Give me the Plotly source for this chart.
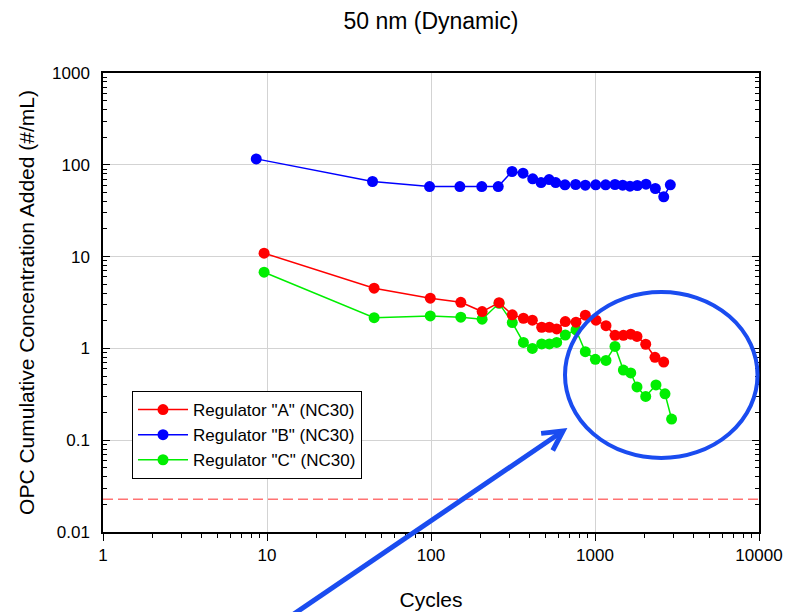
import math
import plotly.graph_objects as go

# ---------------- data ----------------
cycles_a = [9.6, 45, 99, 152, 205, 260, 313, 366, 415, 473, 527, 584, 659, 766, 873,
            1014, 1167, 1324, 1489, 1652, 1803, 2038, 2321, 2624]
conc_a = [10.9, 4.53, 3.52, 3.18, 2.52, 3.15, 2.32, 2.13, 2.03, 1.70, 1.70, 1.63, 1.96,
          1.93, 2.30, 2.03, 1.77, 1.39, 1.39, 1.43, 1.35, 1.11, 0.80, 0.71]

cycles_b = [8.6, 44, 98, 150, 204, 257, 312, 364, 417, 469, 525, 576, 656, 762, 873,
            1010, 1161, 1324, 1475, 1634, 1811, 2047, 2333, 2625, 2879]
conc_b = [116, 65.8, 58, 58, 58, 58, 84.5, 81, 70.3, 64, 69, 64, 60.5, 61, 60, 60.5,
          60.5, 61, 60, 58.5, 59.5, 61.5, 55.2, 44.8, 60.5]

cycles_c = [9.6, 45, 99, 152, 205, 260, 313, 366, 415, 473, 527, 584, 659, 766, 873,
            1005, 1167, 1324, 1489, 1652, 1803, 2038, 2354, 2672, 2931]
conc_c = [6.76, 2.16, 2.26, 2.19, 2.08, 3.1, 1.91, 1.16, 1.0, 1.12, 1.12, 1.16, 1.40,
          1.59, 0.92, 0.76, 0.74, 1.05, 0.58, 0.54, 0.38, 0.30, 0.40, 0.32, 0.17]

series_names = ['Regulator "A" (NC30)', 'Regulator "B" (NC30)', 'Regulator "C" (NC30)']
series_colors = ["#ff0000", "#0000ff", "#00ee00"]

limit_value = 0.0228

x_tickvals = [1, 10, 100, 1000, 10000]
x_ticktext = ["1", "10", "100", "1000", "10000"]
y_tickvals = [0.01, 0.1, 1, 10, 100, 1000]
y_ticktext = ["0.01", "0.1", "1", "10", "100", "1000"]

# ---------------- layout geometry ----------------
W, H = 791, 612
L, R, T, B = 103, 32, 73, 80
PW, PH = W - L - R, H - T - B

def px_to_paper(px, py):
    return (px - L) / PW, (H - B - py) / PH

FONT = "Liberation Sans, Arial, sans-serif"

fig = go.Figure()

datasets = [(cycles_a, conc_a), (cycles_b, conc_b), (cycles_c, conc_c)]
# draw green first, red last (red on top), legend order A, B, C
for idx in [2, 1, 0]:
    xs, ys = datasets[idx]
    fig.add_trace(go.Scatter(
        x=xs, y=ys, mode="lines+markers", name=series_names[idx],
        line=dict(color=series_colors[idx], width=1.5),
        marker=dict(color=series_colors[idx], size=11),
        legendrank=idx + 1,
    ))

fig.add_hline(y=limit_value, line=dict(color="#ff7373", width=1.5, dash="10px,5px"))

minor_vals_x = [m * 10 ** d for d in range(0, 4) for m in range(2, 10)]
minor_vals_y = [m * 10 ** d for d in range(-2, 3) for m in range(2, 10)]

fig.update_layout(
    width=W, height=H,
    margin=dict(l=L, r=R, t=T, b=B, autoexpand=False),
    paper_bgcolor="white", plot_bgcolor="white",
    font=dict(family=FONT, size=17, color="black"),
    title=dict(text="50 nm (Dynamic)", x=(L + PW / 2) / W, xanchor="center",
               y=1 - 21 / H, yanchor="middle", font=dict(size=23)),
    xaxis=dict(
        type="log", range=[0, 4], automargin=False,
        tickvals=x_tickvals, ticktext=x_ticktext,
        ticks="outside", ticklen=7, tickwidth=1, tickcolor="black",
        minor=dict(tickvals=minor_vals_x, ticks="outside", ticklen=4, tickcolor="black", showgrid=False),
        showgrid=True, gridcolor="#d3d3d3", gridwidth=1,
        showline=True, linecolor="black", linewidth=1.5, mirror=True,
        title=dict(text="Cycles", font=dict(size=21), standoff=28),
        tickfont=dict(size=17), zeroline=False,
    ),
    xaxis2=dict(
        type="log", range=[0, 4], overlaying="x", side="top", automargin=False,
        tickvals=x_tickvals, showticklabels=False,
        ticks="inside", ticklen=7, tickcolor="black",
        minor=dict(tickvals=minor_vals_x, ticks="inside", ticklen=4, tickcolor="black", showgrid=False),
        showgrid=False, showline=False, zeroline=False,
    ),
    yaxis=dict(
        type="log", range=[-2, 3], automargin=False,
        tickvals=y_tickvals, ticktext=y_ticktext,
        ticks="inside", ticklen=7, tickwidth=1, tickcolor="black",
        minor=dict(tickvals=minor_vals_y, ticks="inside", ticklen=4, tickcolor="black", showgrid=False),
        showgrid=True, gridcolor="#d3d3d3", gridwidth=1,
        showline=True, linecolor="black", linewidth=1.5, mirror="allticks",
        ticklabelstandoff=8,
        title=dict(text="OPC Cumulative Concentration Added (#/mL)", font=dict(size=21), standoff=12),
        tickfont=dict(size=17), zeroline=False,
    ),
    legend=dict(
        x=(132 - L) / PW, y=(H - B - 391) / PH, xanchor="left", yanchor="top",
        bgcolor="white", bordercolor="black", borderwidth=1,
        font=dict(size=17), traceorder="normal", itemwidth=50,
    ),
    showlegend=True,
)

# ---- annotation: ellipse and arrow ----
ANN = "#1a4cf0"
ex0, ey0 = px_to_paper(565, 458)
ex1, ey1 = px_to_paper(757.5, 292)
fig.add_shape(type="circle", xref="paper", yref="paper", x0=ex0, y0=ey0, x1=ex1, y1=ey1,
              line=dict(color=ANN, width=4))

tip = (563, 431)
tail = (288, 618)
tx0, ty0 = px_to_paper(*tail)
tx1, ty1 = px_to_paper(*tip)
fig.add_shape(type="line", xref="paper", yref="paper", x0=tx0, y0=ty0, x1=tx1, y1=ty1,
              line=dict(color=ANN, width=5))
ang = math.atan2(tail[1] - tip[1], tail[0] - tip[0])
arm = 22
pts = []
for da in (math.radians(28), -math.radians(28)):
    pts.append((tip[0] + arm * math.cos(ang + da), tip[1] + arm * math.sin(ang + da)))
a1 = px_to_paper(*pts[0])
a2 = px_to_paper(*pts[1])
tp = px_to_paper(*tip)
fig.add_shape(type="path", xref="paper", yref="paper",
              path=f"M {a1[0]},{a1[1]} L {tp[0]},{tp[1]} L {a2[0]},{a2[1]}",
              line=dict(color=ANN, width=5))

fig.write_html("out.html")
